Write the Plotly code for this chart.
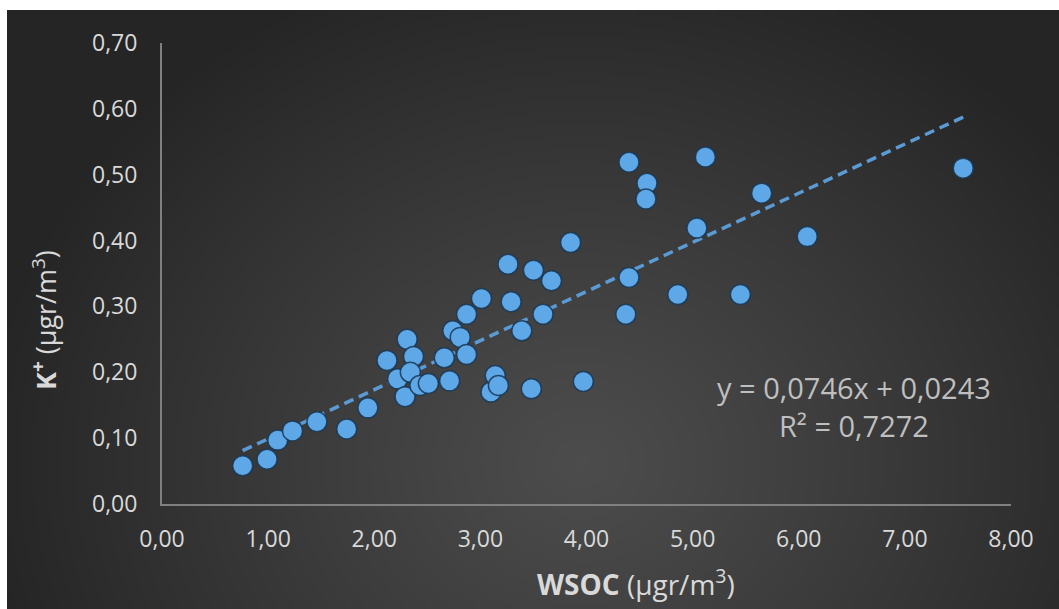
import base64, struct, zlib
import plotly.graph_objects as go

# ---- data ----
wsoc = [0.76, 0.99, 1.09, 1.23, 1.46, 1.74, 1.94, 2.12, 2.22, 2.31, 2.29, 2.37, 2.34,
        2.43, 2.51, 2.66, 2.71, 2.74, 2.81, 2.87, 2.87, 3.01, 3.10, 3.14, 3.17, 3.26,
        3.29, 3.39, 3.48, 3.50, 3.59, 3.67, 3.85, 3.97, 4.37, 4.40, 4.40, 4.57, 4.56,
        4.86, 5.04, 5.12, 5.45, 5.65, 6.08, 7.55]
k_plus = [0.058, 0.068, 0.097, 0.111, 0.125, 0.114, 0.146, 0.218, 0.190, 0.250, 0.163,
          0.224, 0.200, 0.180, 0.183, 0.222, 0.187, 0.263, 0.253, 0.227, 0.288, 0.312,
          0.170, 0.195, 0.180, 0.364, 0.307, 0.263, 0.175, 0.355, 0.288, 0.339, 0.397,
          0.186, 0.288, 0.519, 0.344, 0.487, 0.463, 0.318, 0.419, 0.527, 0.318, 0.472,
          0.406, 0.510]
slope = 0.0746
intercept = 0.0243
r_squared = 0.7272
x_ticks = [0, 1, 2, 3, 4, 5, 6, 7, 8]
y_ticks = [0.0, 0.1, 0.2, 0.3, 0.4, 0.5, 0.6, 0.7]

trend_x = [min(wsoc), max(wsoc)]
trend_y = [slope * v + intercept for v in trend_x]

# ---- background radial gradient as a small PNG ----
W, H = 263, 150
rows = []
for j in range(H):
    row = bytearray([0])
    for i in range(W):
        px = 7 + i * (1052 / W)
        py = 10 + j * (599 / H)
        dx = (px - 580) / 600.0
        dy = (py - 460) / 520.0
        t = min(1.0, (dx * dx + dy * dy) ** 0.5)
        c = int(round(0x4c + (0x25 - 0x4c) * (t ** 1.1)))
        row += bytes([c, c, c])
    rows.append(bytes(row))
raw = b"".join(rows)

def chunk(tag, data):
    return struct.pack(">I", len(data)) + tag + data + struct.pack(">I", zlib.crc32(tag + data) & 0xffffffff)

png = b"\x89PNG\r\n\x1a\n" + chunk(b"IHDR", struct.pack(">IIBBBBB", W, H, 8, 2, 0, 0, 0)) \
    + chunk(b"IDAT", zlib.compress(raw, 9)) + chunk(b"IEND", b"")
bg_uri = "data:image/png;base64," + base64.b64encode(png).decode()

# plot area in pixels
L, R, T, B = 162, 1011, 43, 504
pw, ph = R - L, B - T
def px_x(p): return (p - L) / pw
def px_y(p): return (B - p) / ph

fig = go.Figure()
fig.add_trace(go.Scatter(
    x=trend_x, y=trend_y, mode="lines",
    line=dict(color="#5B9BD5", width=3.5, dash="10px,6px"),
    hoverinfo="skip", showlegend=False))
fig.add_trace(go.Scatter(
    x=wsoc, y=k_plus, mode="markers",
    marker=dict(size=20, color="#5FA8E8", line=dict(color="rgba(25,55,85,0.85)", width=1.5)),
    showlegend=False))

font_family = "Open Sans, Noto Sans, sans-serif"
fig.update_layout(
    width=1059, height=609,
    margin=dict(l=L, r=1059 - R, t=T, b=609 - B),
    paper_bgcolor="white", plot_bgcolor="rgba(0,0,0,0)",
    separators=",.",
    font=dict(family=font_family, color="#d9d9d9", size=23),
    images=[dict(source=bg_uri, xref="paper", yref="paper",
                 x=px_x(7), y=px_y(10),
                 sizex=1052 / pw, sizey=599 / ph,
                 xanchor="left", yanchor="top", sizing="stretch", layer="below")],
    xaxis=dict(range=[0, 8], tickvals=x_ticks, tickformat=".2f", showgrid=False,
               zeroline=False, showline=True, linecolor="#808080", linewidth=2,
               ticks="", ticklabelstandoff=13,
               tickfont=dict(size=23, color="#d9d9d9")),
    yaxis=dict(range=[0, 0.7], tickvals=y_ticks, tickformat=".2f", showgrid=False,
               zeroline=False, showline=True, linecolor="#808080", linewidth=2,
               ticks="", ticklabelstandoff=18,
               tickfont=dict(size=23, color="#d9d9d9")),
    annotations=[
        dict(text="y = 0,0746x + 0,0243<br>R² = 0,7272",
             xref="paper", yref="paper", x=px_x(854), y=px_y(406),
             xanchor="center", yanchor="middle",
             showarrow=False, align="center",
             font=dict(size=29, color="#bfbfbf", family=font_family)),
        dict(text="<b>WSOC</b> (μgr/m<sup>3</sup>)",
             xref="paper", yref="paper", x=px_x(636), y=px_y(582),
             xanchor="center", yanchor="middle", showarrow=False,
             font=dict(size=28, color="#d9d9d9", family=font_family)),
        dict(text="<b>K<sup>+</sup></b> (μgr/m<sup>3</sup>)", textangle=-90,
             xref="paper", yref="paper", x=px_x(44), y=px_y(320),
             xanchor="center", yanchor="middle", showarrow=False,
             font=dict(size=27, color="#d9d9d9", family=font_family)),
    ],
)

fig.write_html("out.html", config={"displayModeBar": False},
               post_script="document.body.style.margin='0';document.body.style.overflow='hidden';")
